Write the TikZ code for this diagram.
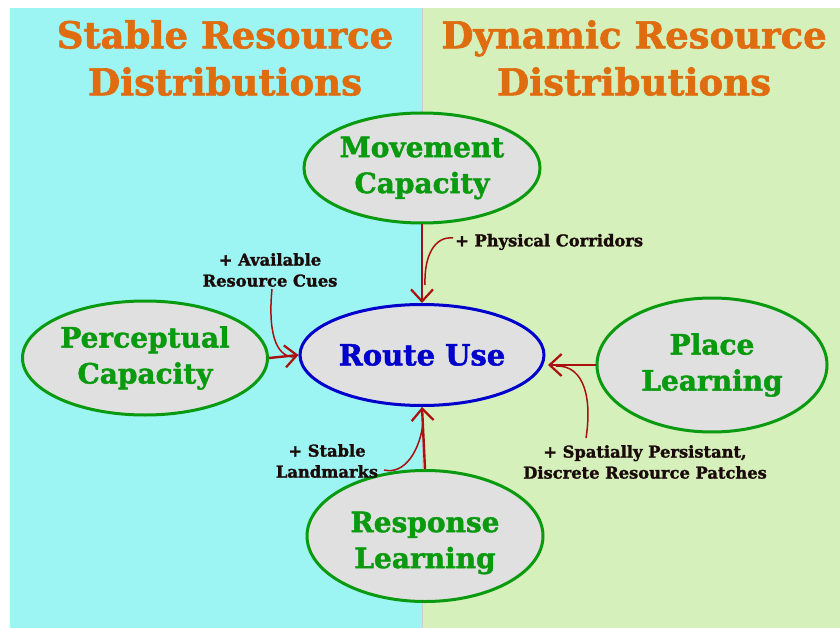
\documentclass[tikz,border=0pt]{standalone}
\usepackage{fontspec}
\setmainfont{DejaVu Serif}[BoldFeatures={FakeBold=1.6}]
\usetikzlibrary{shapes.geometric,arrows.meta}
\definecolor{bgcyan}{HTML}{9CF5F2}
\definecolor{bggreen}{HTML}{D5F0BA}
\definecolor{ttlorange}{HTML}{E06C10}
\definecolor{nodegreen}{HTML}{0A9A10}
\definecolor{nodefill}{HTML}{E0E0E0}
\definecolor{routeblue}{HTML}{0000CC}
\definecolor{arrred}{HTML}{AA1010}
\definecolor{lbltext}{HTML}{1A0A0A}
\tikzset{
  ellnode/.style={ellipse, draw=nodegreen, line width=3pt, fill=nodefill, text=nodegreen, align=center, inner sep=0pt,
    font=\bfseries\fontsize{28}{36}\selectfont},
  routenode/.style={ellnode, draw=routeblue, text=routeblue, font=\bfseries\fontsize{29}{36}\selectfont},
  ttl/.style={text=ttlorange, align=center, font=\bfseries\fontsize{37}{47}\selectfont},
  lbl/.style={text=lbltext, align=center, font=\bfseries\fontsize{16.3}{21}\selectfont, inner sep=0pt},
  arr/.style={draw=arrred, line width=2.4pt, -{Straight Barb[length=12pt,width=22pt,line width=2.2pt]}},
  hook/.style={draw=arrred, line width=1.5pt},
}
\begin{document}
\begin{tikzpicture}[x=1pt,y=-1pt]
\useasboundingbox (0,0) rectangle (840,628);
\fill[white] (0,0) rectangle (840,628);
\fill[bgcyan] (10,8) rectangle (422,628);
\fill[bggreen] (422,8) rectangle (840,628);
\draw[black!20, line width=0.6pt] (422,8) -- (422,628);

\node[ttl] (tl) at (225,58) {Stable Resource\\Distributions};
\node[ttl] (tr) at (634,58) {Dynamic Resource\\Distributions};

\node[ellnode, minimum width=236pt, minimum height=110pt] (move) at (422,168) {Movement\\Capacity};
\node[routenode, minimum width=244pt, minimum height=101pt] (route) at (422,355) {Route Use};
\node[ellnode, minimum width=245pt, minimum height=114pt] (perc) at (145,358) {Perceptual\\Capacity};
\node[ellnode, minimum width=230pt, minimum height=134pt] (place) at (712,365) {Place\\Learning};
\node[ellnode, minimum width=236pt, minimum height=131pt] (resp) at (425,536) {};
\node[ellnode, draw=none, fill=none] (resptxt) at (425,543) {Response\\Learning};

\draw[arr] (move.south) -- (route.north);
\draw[arr] (perc.east) -- (route.west);
\draw[arr, shorten >=2.5pt] (place.west) -- (place.west -| route.east);
\draw[arr] (resp.north) -- (route.south);

\node[lbl, anchor=west] (phys) at (455,242) {+ Physical Corridors};
\node[lbl] (avail) at (270,270) {+ Available\\Resource Cues};
\node[lbl] (stable) at (327,461) {+ Stable\\Landmarks};
\node[lbl] (spat) at (645,462) {+ Spatially Persistant,\\Discrete Resource Patches};

\coordinate (jm) at (425,285);
\coordinate (jp) at (294,357);
\coordinate (js) at (423,423);
\coordinate (jl) at (556,366);

\draw[hook] (453,238) .. controls (435,236) and (424,255) .. (jm);
\draw[hook] (272,289) .. controls (268,330) and (275,357) .. (jp);
\draw[hook] (384,470) .. controls (405,475) and (420,450) .. (js);
\draw[hook] (586,438) .. controls (592,400) and (585,365) .. (jl);
\end{tikzpicture}
\end{document}
